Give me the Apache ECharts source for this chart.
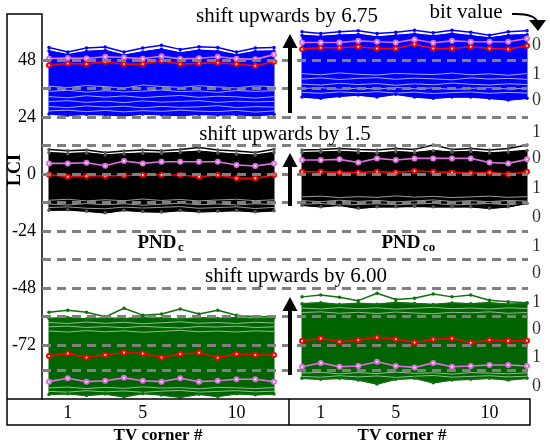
<!DOCTYPE html>
<html>
<head>
<meta charset="utf-8">
<script src="https://cdn.jsdelivr.net/npm/echarts@6/dist/echarts.min.js"></script>
<style>
  html, body { margin: 0; padding: 0; background: #fff; }
  #main { width: 550px; height: 447px; }
</style>
</head>
<body>
<div id="main"></div>
<script>
// TV corner index, 13 points per curve
const corners = ['0', '1', '2', '3', '4', '5', '6', '7', '8', '9', '10', '11', '12']
const tickLabels = ['1', '5', '10']
const yTickLabels = [48, 24, 0, -24, -48, -72]
const dashLevels = [48, 36, 24, 12, 0, -12, -24, -36, -48, -60, -72, -82.5]
const bitLevels = [54.3, 42.1, 31.2, 17.7, 6.7, -5.9, -18.1, -30.3, -41.7, -53.9, -65.3, -77, -89.3]
const bitValues = ['0', '1', '0', '1', '0', '1', '0', '1', '0', '1', '0', '1', '0']

// ---- PNDc, blue (shifted +6.75) ----
const cBlueTop = [53.3, 51.4, 53.1, 53.5, 51.4, 53.1, 54.2, 52.5, 53.6, 53.3, 51.4, 53.1, 53.3]
const cBlueUpper = [51.8, 50.2, 51.6, 52.0, 50.0, 51.4, 52.6, 51.0, 52.1, 51.7, 50.1, 51.6, 51.8]
const cBlueSparse = [
  [37.0, 36.4, 37.3, 36.8, 36.2, 37.5, 36.9, 36.5, 37.2, 36.7, 36.3, 37.1, 36.8],
  [34.8, 35.3, 34.5, 35.1, 34.6, 34.9, 35.4, 34.7, 35.0, 34.4, 35.2, 34.8, 35.1],
  [32.6, 32.1, 33.0, 32.4, 32.9, 32.2, 32.7, 33.1, 32.3, 32.8, 32.5, 32.0, 32.6],
  [30.5, 30.9, 30.2, 30.7, 30.1, 30.8, 30.3, 30.6, 30.9, 30.2, 30.7, 30.4, 30.6],
  [28.4, 28.0, 28.7, 28.2, 28.6, 27.9, 28.5, 28.1, 28.3, 28.8, 28.0, 28.4, 28.2],
  [26.6, 26.9, 26.3, 26.8, 26.2, 26.7, 26.4, 26.9, 26.5, 26.3, 26.8, 26.1, 26.6]
]
const cBlueBottom = [25.3, 24.8, 25.2, 25.0, 24.6, 25.3, 25.0, 24.7, 25.2, 24.9, 25.1, 24.6, 25.2]
const cBlueRed = [45.8, 46.6, 46.3, 47.3, 46.3, 46.3, 47.7, 46.3, 46.6, 46.9, 46.3, 45.6, 47.3]
const cBlueViolet = [48.6, 48.9, 48.7, 49.4, 49.1, 48.6, 49.6, 48.5, 48.8, 49.4, 48.6, 48.3, 50.3]

// ---- PNDc, black (shifted +1.5) ----
const cBlackTop = [10.4, 9.8, 10.1, 9.1, 9.7, 10.1, 9.8, 10.4, 11.2, 10.1, 9.7, 9.1, 10.5]
const cBlackUpper = [9.0, 8.6, 8.9, 8.0, 8.5, 8.8, 8.7, 9.1, 9.6, 8.9, 8.4, 7.9, 9.1]
const cBlackSparse = [
  [-11.0, -10.6, -11.3, -10.8, -11.2, -10.5, -11.1, -10.7, -11.3, -10.9, -10.6, -11.2, -10.8],
  [-12.6, -13.0, -12.4, -12.9, -12.5, -13.1, -12.7, -12.3, -12.9, -12.6, -13.0, -12.5, -12.8],
  [-14.1, -13.8, -14.4, -14.6, -13.9, -14.3, -14.0, -13.7, -14.4, -14.1, -13.8, -14.5, -14.0]
]
const cBlackBottom = [-15.2, -15.0, -15.6, -16.3, -15.2, -15.8, -16.0, -15.3, -15.9, -15.6, -15.3, -15.9, -15.4]
const cBlackRed = [-0.3, -1.1, -0.8, -0.8, -0.6, -0.4, -0.4, -0.4, -1.1, -0.4, -1.8, -1.8, -0.4]
const cBlackViolet = [4.5, 4.5, 4.8, 3.5, 5.5, 4.5, 5.2, 5.2, 5.2, 5.2, 3.8, 3.4, 4.5]

// ---- PNDc, green (shifted +6.00) ----
const cGreenTop = [-58.2, -57.3, -58.2, -60.1, -56.5, -59.4, -58.9, -56.8, -58.9, -57.3, -59.4, -60.1, -60.1]
const cGreenUpper = [-60.8, -60.4, -61.0, -60.6, -60.9, -60.3, -60.7, -61.1, -60.5, -60.8, -60.4, -60.9, -60.6]
const cGreenSparse = [
  [-62.5, -62.9, -62.3, -62.8, -62.4, -63.0, -62.6, -62.2, -62.8, -62.5, -62.9, -62.4, -62.7],
  [-64.3, -64.0, -64.6, -64.2, -64.7, -64.1, -64.5, -64.8, -64.2, -64.4, -64.0, -64.6, -64.3],
  [-66.1, -66.5, -65.9, -66.4, -66.0, -66.6, -66.2, -65.8, -66.4, -66.1, -66.5, -66.0, -66.3],
  [-90.0, -89.7, -90.3, -89.8, -90.2, -89.6, -90.1, -89.9, -90.4, -89.8, -90.0, -90.3, -89.9],
  [-91.5, -91.8, -91.2, -91.7, -91.3, -91.9, -91.4, -91.1, -91.8, -91.5, -91.2, -91.7, -91.4]
]
const cGreenBottom = [-92.8, -92.5, -93.2, -92.6, -93.8, -92.4, -93.0, -94.0, -92.7, -93.6, -92.5, -92.9, -92.6]
const cGreenRed = [-76.6, -75.5, -77.2, -76.2, -75.1, -75.5, -77.2, -75.8, -75.2, -77.3, -75.8, -76.2, -76.2]
const cGreenViolet = [-87.4, -86.0, -87.4, -87.0, -85.8, -87.0, -87.4, -86.0, -87.4, -87.0, -86.4, -86.4, -87.4]

// ---- PNDco, blue ----
const oBlueTop = [59.9, 59.2, 59.9, 60.3, 59.2, 59.7, 60.6, 59.5, 60.6, 59.7, 58.5, 59.9, 60.3]
const oBlueUpper = [58.4, 57.9, 58.5, 58.8, 57.7, 58.3, 59.0, 58.1, 59.1, 58.2, 57.3, 58.4, 58.7]
const oBlueSparse = [
  [42.3, 41.8, 42.6, 42.0, 41.7, 42.4, 42.1, 41.9, 42.5, 41.8, 42.2, 41.6, 42.3],
  [40.0, 40.5, 39.8, 40.3, 40.6, 39.9, 40.4, 40.1, 39.7, 40.5, 40.0, 40.3, 39.9],
  [37.9, 37.5, 38.2, 37.7, 38.1, 37.4, 38.0, 37.6, 38.3, 37.8, 37.5, 38.0, 37.7],
  [36.0, 36.4, 35.7, 36.2, 35.8, 36.5, 35.9, 36.3, 35.6, 36.1, 36.4, 35.8, 36.2],
  [34.4, 34.0, 34.6, 34.2, 34.7, 34.1, 34.5, 33.9, 34.3, 34.6, 34.0, 34.4, 34.1]
]
const oBlueBottom = [32.5, 31.9, 32.8, 33.3, 32.5, 33.6, 32.5, 31.9, 32.5, 32.5, 31.9, 31.2, 31.9]
const oBlueRed = [52.6, 53.2, 53.2, 53.6, 52.9, 52.9, 54.7, 52.9, 52.9, 53.6, 52.9, 52.6, 54.0]
const oBlueViolet = [55.4, 55.4, 55.4, 56.1, 55.7, 55.4, 56.7, 55.3, 56.1, 55.7, 55.7, 55.7, 57.1]

// ---- PNDco, black ----
const oBlackTop = [10.1, 10.4, 10.8, 10.4, 10.1, 10.8, 10.4, 12.2, 10.4, 10.8, 10.1, 10.8, 12.2]
const oBlackUpper = [9.0, 9.2, 9.5, 9.1, 8.8, 9.4, 9.0, 9.8, 9.2, 9.5, 8.9, 9.3, 9.9]
const oBlackSparse = [
  [-9.6, -9.3, -9.9, -9.5, -9.8, -9.2, -9.7, -9.4, -9.9, -9.6, -9.3, -9.8, -9.5],
  [-11.2, -11.6, -11.0, -11.5, -11.1, -11.7, -11.3, -10.9, -11.5, -11.2, -11.6, -11.1, -11.4],
  [-12.7, -12.4, -13.0, -12.8, -12.5, -12.9, -12.6, -12.3, -13.0, -12.7, -12.4, -12.9, -12.5]
]
const oBlackBottom = [-13.1, -13.8, -13.1, -14.4, -13.8, -13.8, -13.5, -13.8, -13.8, -13.8, -14.4, -13.8, -12.3]
const oBlackRed = [1.0, 1.0, 0.7, 0.7, 1.0, 0.7, 1.3, 1.0, 0.7, 0.3, 0.7, 0.0, 1.0]
const oBlackViolet = [5.9, 5.9, 6.2, 4.9, 6.6, 5.9, 6.6, 6.6, 6.6, 6.6, 4.9, 4.5, 6.2]

// ---- PNDco, green ----
const oGreenTop = [-51.7, -50.9, -51.9, -53.3, -50.2, -52.8, -52.3, -50.5, -51.7, -50.9, -53.1, -53.8, -54.2]
const oGreenUpper = [-54.6, -54.2, -54.9, -54.4, -54.8, -54.1, -54.5, -54.9, -54.3, -54.6, -54.2, -54.8, -54.5]
const oGreenSparse = [
  [-56.4, -56.8, -56.2, -56.7, -56.3, -56.9, -56.5, -56.1, -56.7, -56.4, -56.8, -56.3, -56.6],
  [-58.3, -58.0, -58.6, -58.2, -58.7, -58.1, -58.5, -58.8, -58.2, -58.4, -58.0, -58.6, -58.3],
  [-83.8, -83.5, -84.1, -83.6, -84.0, -83.4, -83.9, -83.7, -84.2, -83.6, -83.8, -84.1, -83.7],
  [-85.2, -85.5, -84.9, -85.4, -85.0, -85.6, -85.1, -84.8, -85.5, -85.2, -84.9, -85.4, -85.1]
]
const oGreenBottom = [-86.0, -86.4, -86.0, -86.7, -88.4, -86.4, -86.0, -87.9, -86.7, -86.4, -86.0, -86.7, -86.0]
const oGreenRed = [-70.3, -69.2, -70.6, -69.9, -68.8, -69.5, -70.9, -69.6, -69.2, -71.0, -69.9, -70.2, -70.2]
const oGreenViolet = [-81.1, -79.5, -81.1, -80.8, -79.0, -80.8, -81.4, -79.5, -81.1, -80.8, -80.4, -80.4, -80.8]

const BLUE = '#0000ff'
const BLACK = '#000000'
const GREEN = '#006400'
const RED = '#ff0000'
const VIOLET = '#e070e0'
const SERIF = '"Liberation Serif", "DejaVu Serif", serif'

const Y_MIN = -94.7
const Y_MAX = 67.4

const chart = echarts.init(document.getElementById('main'), null, { renderer: 'canvas' })

function curve (grid, values, color, width, z, symbol, markColor, size) {
  return {
    type: 'line',
    xAxisIndex: grid,
    yAxisIndex: grid,
    data: values,
    z: z || 2,
    silent: true,
    symbol: symbol || 'circle',
    symbolSize: size || 3.5,
    showSymbol: symbol !== 'none',
    itemStyle: { color: markColor || color },
    lineStyle: { color: color, width: width || 1.5 }
  }
}

const blueStyle = { fillColor: BLUE, streakColor: '#a8a8ff', lineColor: BLUE }
const blackStyle = { fillColor: BLACK, streakColor: '#9a9a9a', lineColor: BLACK, markColor: '#555' }
const greenStyle = { fillColor: GREEN, streakColor: '#8fbf8f', lineColor: '#0f720f' }

const bandsC = [
  Object.assign({ top: cBlueTop, upper: cBlueUpper, sparse: cBlueSparse, bottom: cBlueBottom, red: cBlueRed, violet: cBlueViolet }, blueStyle),
  Object.assign({ top: cBlackTop, upper: cBlackUpper, sparse: cBlackSparse, bottom: cBlackBottom, red: cBlackRed, violet: cBlackViolet }, blackStyle),
  Object.assign({ top: cGreenTop, upper: cGreenUpper, sparse: cGreenSparse, bottom: cGreenBottom, red: cGreenRed, violet: cGreenViolet }, greenStyle)
]
const bandsO = [
  Object.assign({ top: oBlueTop, upper: oBlueUpper, sparse: oBlueSparse, bottom: oBlueBottom, red: oBlueRed, violet: oBlueViolet }, blueStyle),
  Object.assign({ top: oBlackTop, upper: oBlackUpper, sparse: oBlackSparse, bottom: oBlackBottom, red: oBlackRed, violet: oBlackViolet }, blackStyle),
  Object.assign({ top: oGreenTop, upper: oGreenUpper, sparse: oGreenSparse, bottom: oGreenBottom, red: oGreenRed, violet: oGreenViolet }, greenStyle)
]

// solid envelope of each band (bottom curve up to upper curve), one polygon per band
function fills (grid, bands) {
  return {
    type: 'custom',
    xAxisIndex: grid,
    yAxisIndex: grid,
    z: 1,
    silent: true,
    data: [[0, Y_MIN, Y_MAX]],
    encode: { x: 0, y: [1, 2] },
    renderItem: (params, api) => ({
      type: 'group',
      children: bands.map(b => ({
        type: 'polygon',
        shape: {
          points: b.bottom.map((v, i) => api.coord([i, v]))
            .concat(b.upper.map((v, i) => api.coord([i, v])).reverse())
        },
        style: { fill: b.fillColor, stroke: b.fillColor, lineWidth: 1 }
      }))
    })
  }
}

function bandCurves (grid, b) {
  const s = []
  // thin paler curves: the gaps between the sparse traces
  b.sparse.forEach(arr => s.push(curve(grid, arr, b.streakColor, 1, 2, 'none')))
  s.push(curve(grid, b.top, b.lineColor, 1.5, 3, 'circle', b.markColor))
  s.push(curve(grid, b.upper, b.lineColor, 1.5, 3, 'circle', b.markColor))
  s.push(curve(grid, b.bottom, b.lineColor, 1.5, 3, 'circle', b.markColor))
  s.push(curve(grid, b.red, RED, 1.6, 4, 'emptyCircle', RED, 4))
  s.push(curve(grid, b.violet, VIOLET, 1.6, 4, 'emptyCircle', VIOLET, 4))
  return s
}

let series = [fills(0, bandsC), fills(1, bandsO)]
bandsC.forEach(b => { series = series.concat(bandCurves(0, b)) })
bandsO.forEach(b => { series = series.concat(bandCurves(1, b)) })

// dashed bit thresholds + bit value labels, on a full-width overlay grid
series.push({
  type: 'scatter',
  xAxisIndex: 2,
  yAxisIndex: 2,
  z: 10,
  silent: true,
  symbolSize: 0,
  data: bitLevels.map((v, i) => ({ value: [1, v], label: { formatter: bitValues[i] } })),
  label: {
    show: true, position: 'right', distance: 4,
    fontFamily: SERIF, fontSize: 18, color: '#000'
  },
  markLine: {
    silent: true,
    symbol: ['none', 'none'],
    label: { show: false },
    lineStyle: { color: '#808080', width: 3, type: [9, 6] },
    data: dashLevels.map(v => ({ yAxis: v }))
  }
})

const xCat = (grid) => ({
  type: 'category',
  gridIndex: grid,
  data: corners,
  boundaryGap: false,
  axisLine: { show: false },
  axisTick: { show: false },
  axisLabel: {
    interval: 0,
    margin: 5,
    fontFamily: SERIF,
    fontSize: 18,
    color: '#000',
    formatter: v => tickLabels.includes(v) ? v : ''
  },
  splitLine: { show: false }
})

const yHidden = (grid) => ({
  type: 'value', gridIndex: grid, min: Y_MIN, max: Y_MAX, show: false, splitLine: { show: false }
})

const arrow = (cx, top, bottom) => ([
  { type: 'polygon', shape: { points: [[cx - 7.5, top + 14], [cx + 7.5, top + 14], [cx, top]] }, style: { fill: '#000' }, z: 20 },
  { type: 'rect', shape: { x: cx - 2, y: top + 12, width: 4, height: bottom - top - 12 }, style: { fill: '#000' }, z: 20 }
])

const txt = (text, x, y, font) => ({
  type: 'text',
  z: 20,
  x: x,
  y: y,
  style: {
    text: text, x: 0, y: 0, font: font, fill: '#000',
    align: 'center', verticalAlign: 'middle',
    textAlign: 'center', textVerticalAlign: 'middle'
  }
})

const lciLabel = txt('LCI', 15, 170, 'bold 18px ' + SERIF)
lciLabel.rotation = Math.PI / 2

const option = {
  animation: false,
  backgroundColor: '#fff',
  grid: [
    { left: 49, width: 225, top: 14, bottom: 48 },
    { left: 302, width: 225, top: 14, bottom: 48 },
    { left: 42, right: 22, top: 14, bottom: 48 }
  ],
  xAxis: [
    xCat(0),
    xCat(1),
    { type: 'value', gridIndex: 2, min: 0, max: 1, show: false, splitLine: { show: false } }
  ],
  yAxis: [
    yHidden(0),
    yHidden(1),
    {
      type: 'value', gridIndex: 2, min: Y_MIN, max: Y_MAX,
      axisLine: { show: true, lineStyle: { color: '#000', width: 1.5 } },
      axisTick: { show: false },
      splitLine: { show: false },
      axisLabel: {
        customValues: yTickLabels,
        margin: 6,
        fontFamily: SERIF,
        fontSize: 18,
        color: '#000'
      }
    }
  ],
  series: series,
  graphic: [
    // frame around y label column and x-axis boxes
    { type: 'polyline', z: 20, shape: { points: [[42, 14], [7, 14], [7, 425], [530, 425], [530, 399], [7, 399]] }, style: { stroke: '#000', lineWidth: 1.5, fill: null } },
    { type: 'line', z: 20, shape: { x1: 289, y1: 399, x2: 289, y2: 425 }, style: { stroke: '#000', lineWidth: 1.5 } },
    lciLabel,
    txt('TV corner #', 158, 436, 'bold 17px ' + SERIF),
    txt('TV corner #', 402, 436, 'bold 17px ' + SERIF),
    txt('shift upwards by 6.75', 287, 16, '21px ' + SERIF),
    txt('shift upwards by 1.5', 285, 134, '21px ' + SERIF),
    txt('shift upwards by 6.00', 296, 276, '21px ' + SERIF),
    txt('bit value', 466, 12, '21px ' + SERIF),
    txt('PND', 157, 243, 'bold 19px ' + SERIF),
    txt('c', 181, 248, 'bold 13px ' + SERIF),
    txt('PND', 401, 243, 'bold 19px ' + SERIF),
    txt('co', 429, 248, 'bold 13px ' + SERIF),
    { type: 'bezierCurve', z: 20, shape: { x1: 512, y1: 14, x2: 537, y2: 21, cpx1: 533, cpy1: 13 }, style: { stroke: '#000', lineWidth: 2, fill: null } },
    { type: 'polygon', z: 20, shape: { points: [[529, 20], [546, 20], [538, 31]] }, style: { fill: '#000' } }
  ].concat(arrow(290, 34, 113), arrow(290, 153, 206), arrow(290, 297, 375))
}

chart.setOption(option)
</script>
</body>
</html>
